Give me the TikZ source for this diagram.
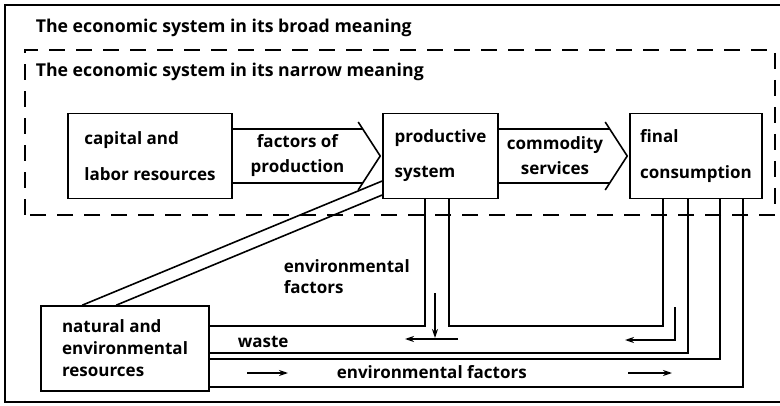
\documentclass[tikz,border=0pt]{standalone}
\usepackage{fontspec}
\setmainfont{Open Sans}
\usetikzlibrary{calc,arrows.meta}

\begin{document}
\begin{tikzpicture}[x=1pt, y=1pt, line width=1.6pt,
    box/.style={rectangle, draw, line width=1.6pt, minimum height=85pt, align=left, inner sep=0pt, font=\fontsize{17}{20}\selectfont\bfseries},
    label/.style={inner sep=0pt, font=\fontsize{17}{20}\selectfont\bfseries},
    heading/.style={inner sep=0pt, anchor=base west, font=\fontsize{17.7}{20}\selectfont\bfseries},
    >={Stealth[length=9pt, width=6pt]}]
    \useasboundingbox (0,0) rectangle (780,405);

    % Broad and narrow system frames
    \draw (780,400) -- (5,400) -- (5,3) -- (780,3);
    \draw[dashed, dash pattern=on 16pt off 11pt] (25,190) rectangle (775,355);
    \node[heading] (broad) at (35,372) {The economic system in its broad meaning};
    \node[heading] (narrow) at (35,328) {The economic system in its narrow meaning};

    % Boxes
    \node[box, minimum width=164pt] (cap) at (150,249) {capital and\\[16pt]labor resources};
    \node[box, minimum width=115pt] (prod) at (440.5,249) {productive\\[15pt]system};
    \node[box, minimum width=132pt] (cons) at (696,249) {final\\[16pt]consumption};
    \node[box, minimum width=168pt] (nat) at (125,56.5) {natural and\\[2pt]environmental\\[2pt]resources};

    % Broad arrow: factors of production
    \draw ($(cap.east)+(0,27)$) -- ($(prod.west)+(-19.5,27)$);
    \draw ($(cap.east)+(0,-27)$) -- ($(prod.west)+(-19.5,-27)$);
    \draw ($(prod.west)+(-24,34)$) -- ($(prod.west)+(-2,0)$) -- ($(prod.west)+(-24,-34)$);
    \node[label, align=center] (fop) at ($(cap.east)!0.5!(prod.west)+(-10,0)$) {factors of\\[5pt]production};

    % Broad arrow: commodity services
    \draw ($(prod.east)+(0,27)$) -- ($(cons.west)+(-19.5,27)$);
    \draw ($(prod.east)+(0,-27)$) -- ($(cons.west)+(-19.5,-27)$);
    \draw ($(cons.west)+(-24,34)$) -- ($(cons.west)+(-2,0)$) -- ($(cons.west)+(-24,-34)$);
    \node[label, align=center] (cs) at ($(prod.east)!0.5!(cons.west)+(-9,0)$) {commodity\\[5pt]services};

    % Resources into production
    \draw ($(nat.north west)+(42,0)$) -- ($(prod.west)+(0,-25)$);
    \draw ($(nat.north west)+(76,0)$) -- ($(prod.west)+(0,-39)$);

    % Lower channels
    \coordinate (wt) at (0,79);
    \coordinate (wb) at (0,52);
    \coordinate (et) at (0,46);
    \coordinate (eb) at (0,18);
    \coordinate (p1) at ($(prod.south)+(-15.5,0)$);
    \coordinate (p2) at ($(prod.south)+(8.5,0)$);
    \coordinate (c1) at ($(cons.south)+(-33,0)$);
    \coordinate (c2) at ($(cons.south)+(-8,0)$);
    \coordinate (c3) at ($(cons.south)+(24,0)$);
    \coordinate (c4) at ($(cons.south)+(47,0)$);
    \draw (nat.east |- wt) -| (p1);
    \draw (p2) |- (c1 |- wt) -- (c1);
    \draw (nat.east |- wb) -| (c2);
    \draw (nat.east |- et) -| (c3);
    \draw (nat.east |- eb) -| (c4);

    % Flow direction marks
    \draw[->, line width=1.3pt] (435,112) -- (435,67);
    \draw[->, line width=1.3pt] (458,66) -- (405,66);
    \draw[->, line width=1.3pt] (675,98) -- (675,65) -- (625,65);
    \draw[->, line width=1.3pt] (247,32) -- (288,32);
    \draw[->, line width=1.3pt] (628,32) -- (672,32);

    \node[label, anchor=north west, align=left] (envf) at (283,146) {environmental\\[1pt]factors};
    \node[label, anchor=base west] (waste) at (237,58) {waste};
    \node[label, anchor=base west] (envlabel) at (336,27) {environmental factors};
\end{tikzpicture}
\end{document}
